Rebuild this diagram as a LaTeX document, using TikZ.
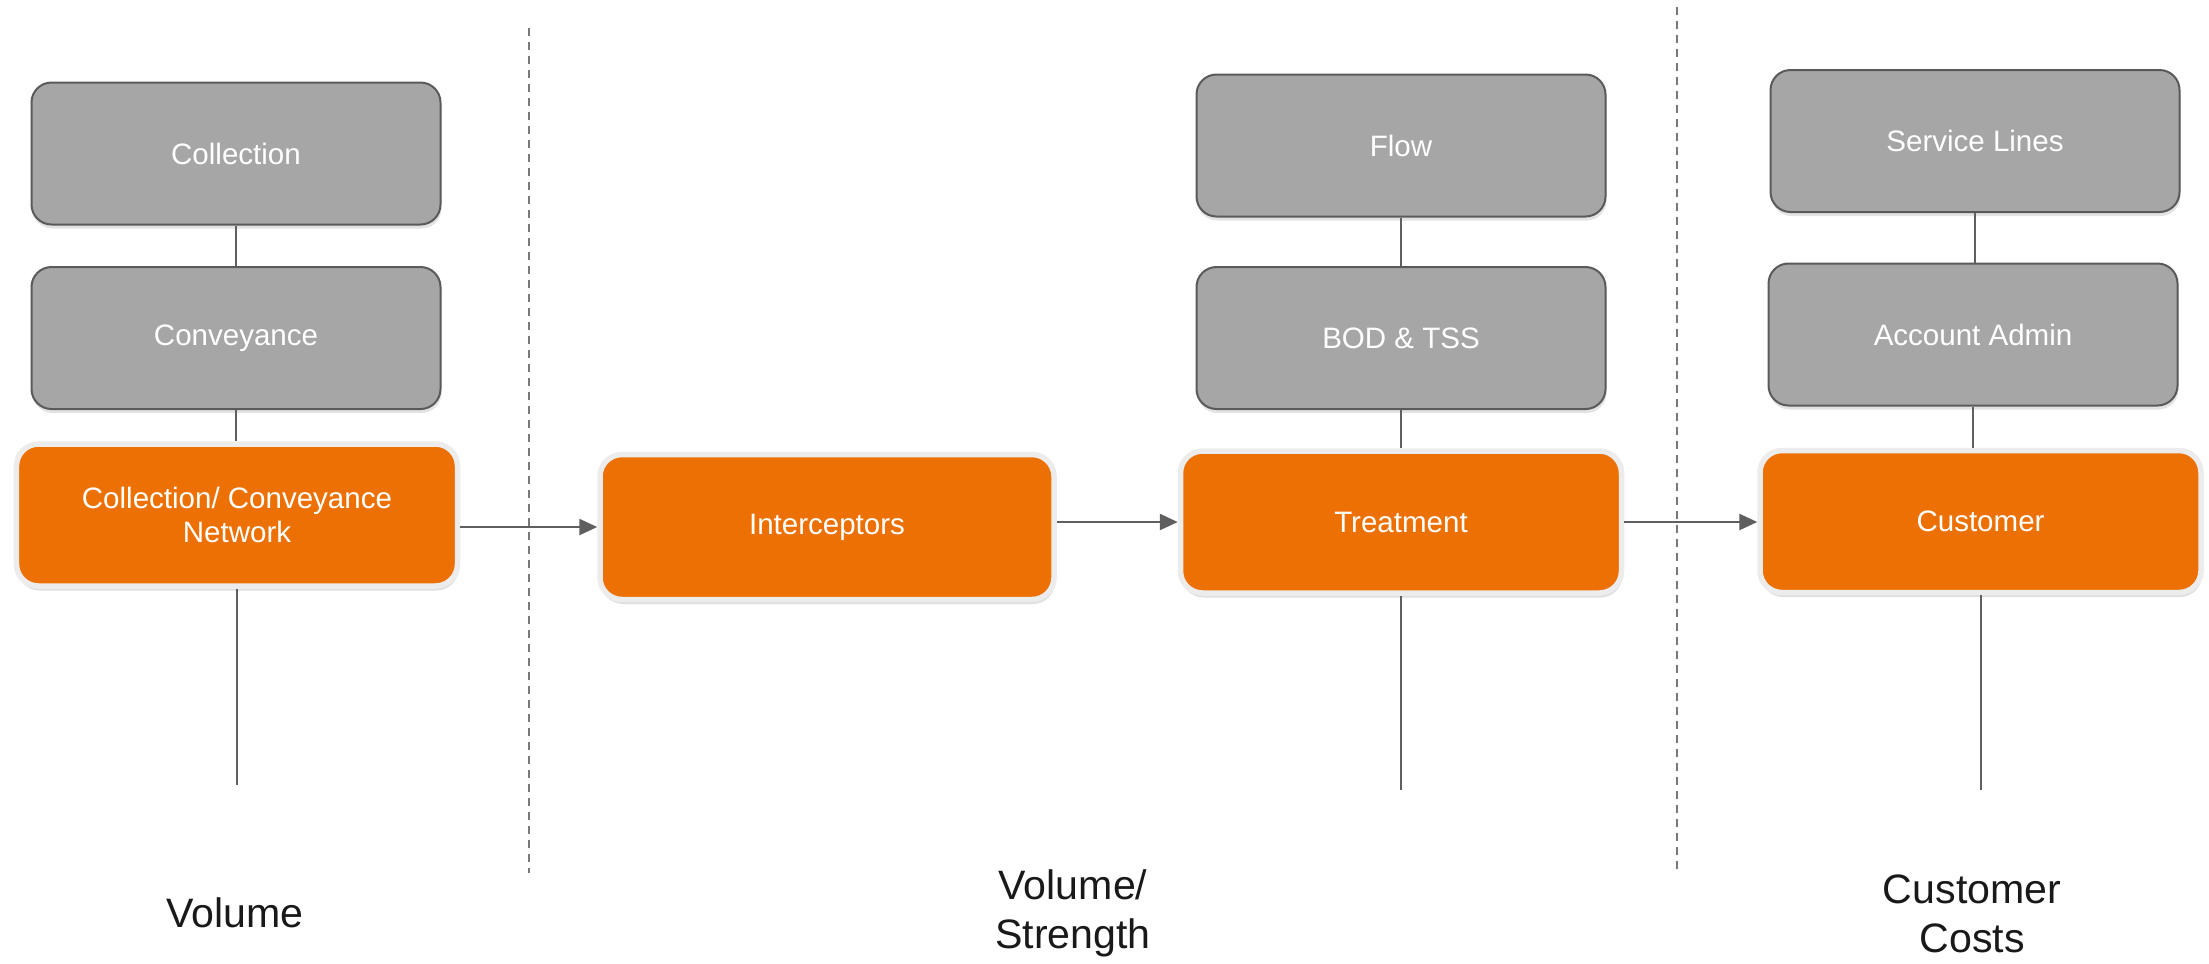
\documentclass[tikz,border=0pt]{standalone}
\usepackage{fontspec}
\setmainfont{Liberation Sans}
\usetikzlibrary{arrows.meta,shadows}

\definecolor{boxgray}{RGB}{166,166,166}
\definecolor{edgegray}{RGB}{90,90,90}
\definecolor{costorange}{RGB}{236,112,3}
\definecolor{rimgray}{RGB}{236,236,236}
\definecolor{linegray}{RGB}{95,95,95}
\definecolor{dashgray}{RGB}{120,120,120}

\begin{document}
\begin{tikzpicture}[
  graybox/.style={draw=edgegray, line width=0.02cm, fill=boxgray, rounded corners=0.2cm,
    minimum width=4.09cm, minimum height=1.42cm, text=white,
    font=\fontsize{8.4}{10}\selectfont,
    drop shadow={shadow xshift=0.01cm, shadow yshift=-0.04cm, opacity=0.22}},
  orangebox/.style={draw=rimgray, line width=0.055cm, fill=costorange, rounded corners=0.22cm,
    minimum width=4.41cm, minimum height=1.42cm, text=white, align=center,
    font=\fontsize{8.4}{9.9}\selectfont,
    drop shadow={shadow xshift=0.01cm, shadow yshift=-0.045cm, opacity=0.25}},
  link/.style={draw=linegray, line width=0.02cm},
  flowarrow/.style={link, line width=0.025cm, -{Triangle[length=0.18cm,width=0.16cm]}},
  divider/.style={draw=dashgray, line width=0.02cm, dash pattern=on 0.08cm off 0.06cm},
  phase/.style={align=center, font=\fontsize{11.7}{13.9}\selectfont, text=black!90}
]
\fill[white] (0,0) rectangle (22.09,-9.63);
\useasboundingbox (0,0) rectangle (22.09,-9.63);

% dividers between the three stages
\draw[divider] (5.29,-0.28) -- (5.29,-8.73);
\draw[divider] (16.77,-0.07) -- (16.77,-8.71);

% volume
\node[graybox] (coll) at (2.36,-1.535) {Collection};
\node[graybox] (conv) at (2.36,-3.38) {Conveyance};
\node[orangebox] (net) at (2.37,-5.15) {Collection/ Conveyance\\Network};

% volume / strength
\node[orangebox, minimum width=4.54cm, minimum height=1.45cm] (ic) at (8.27,-5.27) {Interceptors};
\node[graybox] (flow) at (14.01,-1.455) {Flow};
\node[graybox] (bod) at (14.01,-3.38) {BOD \& TSS};
\node[orangebox] (treat) at (14.01,-5.22) {Treatment};

% customer costs
\node[graybox] (serv) at (19.75,-1.41) {Service Lines};
\node[graybox] (acct) at (19.73,-3.345) {Account Admin};
\node[orangebox] (cust) at (19.805,-5.215) {Customer};

\coordinate (netend) at (2.35,-7.85);
\coordinate (treatend) at (14.02,-7.90);
\coordinate (custend) at (19.81,-7.90);

\draw[link] (coll.south) -- (coll.south |- conv.north);
\draw[link] (conv.south) -- (conv.south |- net.north);
\draw[link] (net.south) -- (net.south |- netend);
\draw[link] (flow.south) -- (flow.south |- bod.north);
\draw[link] (bod.south) -- (bod.south |- treat.north);
\draw[link] (treat.south) -- (treat.south |- treatend);
\draw[link] (serv.south) -- (serv.south |- acct.north);
\draw[link] (acct.south) -- (acct.south |- cust.north);
\draw[link] (cust.south) -- (cust.south |- custend);

\draw[flowarrow] (ic.west -| net.east) -- (ic.west);
\draw[flowarrow] (treat.west -| ic.east) -- (treat.west);
\draw[flowarrow] (treat.east) -- (treat.east -| cust.west);

\node[phase] (volume) at (2.35,-9.13) {Volume};
\node[phase] (strength) at (10.73,-9.135) {Volume/\\Strength};
\node[phase] (costs) at (19.72,-9.135) {Customer\\Costs};
\end{tikzpicture}
\end{document}
